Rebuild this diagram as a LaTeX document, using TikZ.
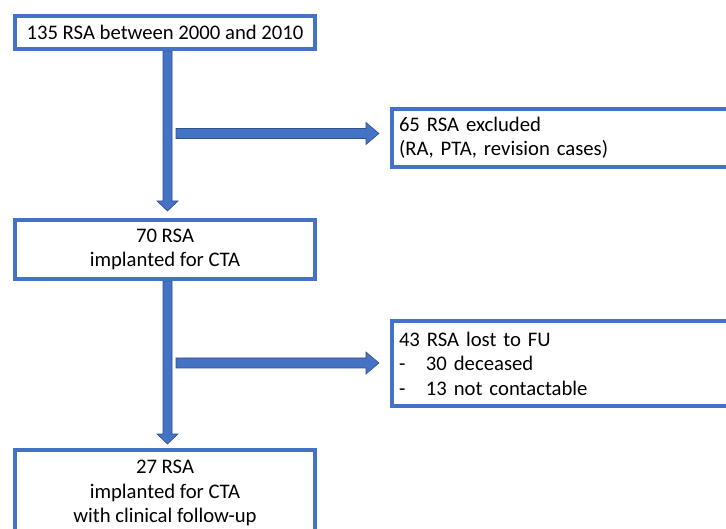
\documentclass[tikz,border=0pt]{standalone}
\usepackage{fontspec}
\setmainfont{Carlito}
\usetikzlibrary{calc}
\pgfdeclarelayer{background}
\pgfsetlayers{background,main}
\definecolor{boxblue}{HTML}{4472C4}
\definecolor{arrline}{HTML}{2F528F}
\tikzset{
  flowbox/.style={draw=boxblue, line width=4pt, fill=white, inner sep=0pt,
    font=\fontsize{20.7pt}{24.5pt}\selectfont, text=black},
  mainbox/.style={flowbox, minimum width=300pt, align=center},
  sidebox/.style={flowbox, text width=334pt, inner xsep=7pt, align=left},
  blockarrow/.style={fill=boxblue, draw=arrline, line width=0.6pt, line join=miter}
}
\newcommand\downblock[2]{%
  \path[blockarrow] ($(#1)+(-4.5,0)$) -- ($(#2)+(-4.5,-10)$) -- ($(#2)+(-10.5,-10)$)
    -- (#2) -- ($(#2)+(10.5,-10)$) -- ($(#2)+(4.5,-10)$) -- ($(#1)+(4.5,0)$) -- cycle;}
\newcommand\rightblock[2]{%
  \path[blockarrow] ($(#1)+(0,-5)$) -- ($(#2)+(-13,-5)$) -- ($(#2)+(-13,-11)$)
    -- (#2) -- ($(#2)+(-13,11)$) -- ($(#2)+(-13,5)$) -- ($(#1)+(0,5)$) -- cycle;}
\begin{document}
\begin{tikzpicture}[x=1pt, y=-1pt]
\useasboundingbox (0,0) rectangle (726,529);
\clip (0,0) rectangle (726,529);
\begin{pgfonlayer}{background}
\fill[white] (0,0) rectangle (726,529);
\end{pgfonlayer}
% nodes
\node[mainbox, minimum height=33pt] (b1) at (165,32.5) {135 RSA between 2000 and 2010};
\node[mainbox, minimum height=59pt] (b2) at (165,249.5) {70 RSA\\implanted for CTA};
\node[mainbox, minimum height=86pt] (b3) at (165,493) {27 RSA\\implanted for CTA\\with clinical follow-up};
\node[sidebox, minimum height=58pt] (r1) at (566,138) {65 RSA excluded\\(RA, PTA, revision cases)};
\node[sidebox, minimum height=85pt] (r2) at (566,363.5)
  {43 RSA lost to FU\\\makebox[27pt][l]{-}30 deceased\\\makebox[27pt][l]{-}13 not contactable};
% connector anchors
\coordinate (s1) at (176,133.5);
\coordinate (s2) at (176,363);
\coordinate (v1s) at ($(b1.south)+(2.5,0)$);
\coordinate (v1e) at ($(b2.north)+(2.5,-7)$);
\coordinate (v2s) at ($(b2.south)+(2.5,0)$);
\coordinate (v2e) at ($(b3.north)+(2.5,-4)$);
\coordinate (h1e) at ($(s1 -| r1.west)+(-11,0)$);
\coordinate (h2e) at ($(s2 -| r2.west)+(-11,0)$);
% arrows, behind the boxes
\begin{pgfonlayer}{background}
\downblock{v1s}{v1e}
\downblock{v2s}{v2e}
\rightblock{s1}{h1e}
\rightblock{s2}{h2e}
\end{pgfonlayer}
\end{tikzpicture}
\end{document}
